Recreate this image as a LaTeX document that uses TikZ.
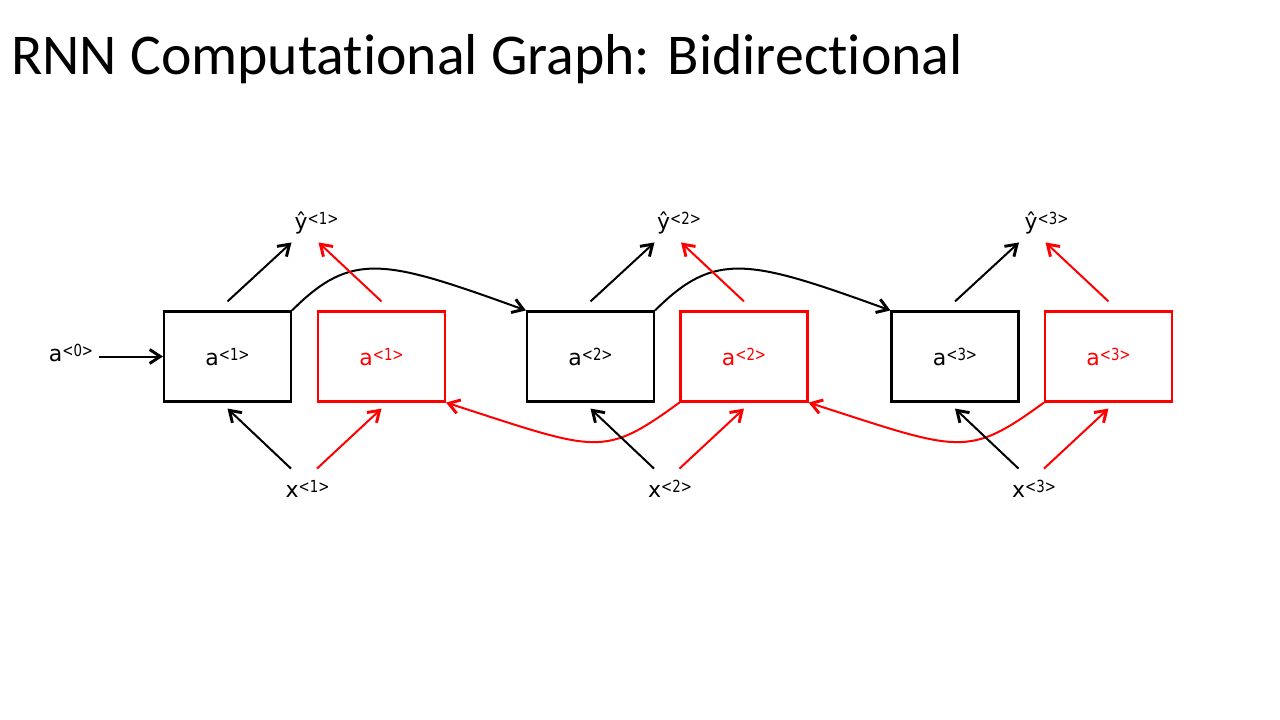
\documentclass[tikz,border=0pt]{standalone}
\usepackage{fontspec}
\setmainfont{DejaVu Sans}
\newfontfamily\titlefont{Carlito}[Ligatures={NoCommon}]
\usetikzlibrary{arrows.meta,calc}
\newcommand\sps[1]{\raisebox{3.5pt}{\scalebox{0.8}[1]{\fontsize{12.5}{13}\selectfont #1}}}
\begin{document}
\begin{tikzpicture}[x=0.75pt,y=-0.75pt,
  lbl/.style={font=\fontsize{16.5}{18}\selectfont, inner sep=0pt, anchor=base},
  bbox/.style={draw=black, line width=1.6pt, minimum width=95.25pt, minimum height=67.5pt,
    inner sep=0pt, font=\fontsize{16.5}{18}\selectfont, text height=13.5pt, text depth=0pt},
  rbox/.style={bbox, draw=red, text=red},
  arr/.style={line width=1.5pt, -{Straight Barb[length=8pt,width=10.5pt,line width=2.2pt]}},
  rarr/.style={arr, draw=red},
]
\useasboundingbox (0,0) rectangle (1280,720);

\node[anchor=base west, font=\titlefont\fontsize{43.3}{50}\selectfont, inner sep=0pt] (title) at (11,75) {RNN Computational Graph: Bidirectional};

% boxes
\node[bbox] (b1) at (227.5,356.5) {a\sps{<1>}};
\node[rbox] (r1) at (381.5,356.5) {a\sps{<1>}};
\node[bbox] (b2) at (590.5,356.5) {a\sps{<2>}};
\node[rbox] (r2) at (744,356.5) {a\sps{<2>}};
\node[bbox] (b3) at (955,356.5) {a\sps{<3>}};
\node[rbox] (r3) at (1108.5,356.5) {a\sps{<3>}};

% labels
\node[lbl] (a0) at (71,361) {a\sps{<0>}};
\node[lbl] (y1) at (316.5,229) {ŷ\sps{<1>}};
\node[lbl] (y2) at (679,229) {ŷ\sps{<2>}};
\node[lbl] (y3) at (1046.5,229) {ŷ\sps{<3>}};
\node[lbl] (x1) at (307.5,497) {x\sps{<1>}};
\node[lbl] (x2) at (670,497) {x\sps{<2>}};
\node[lbl] (x3) at (1034,497) {x\sps{<3>}};

% a0 input
\draw[arr] ($(b1.west)+(-64,0)$) -- (b1.west);

% forward recurrence
\draw[arr] (b1.north east) .. controls +(60,-60) and +(-141,-51) .. (b2.north west);
\draw[arr] (b2.north east) .. controls +(60,-60) and +(-141,-51) .. (b3.north west);

% backward recurrence
\draw[rarr] (r2.south west) .. controls +(-77,56) and +(152,49) .. (r1.south east);
\draw[rarr] (r3.south west) .. controls +(-77,56) and +(152,49) .. (r2.south east);

% outputs and inputs
\foreach \k in {1,2,3}{
  \draw[arr] ($(b\k.north)+(0,-9)$) -- ($(b\k.north)+(64,-68)$);
  \draw[rarr] ($(r\k.north)+(0,-9)$) -- ($(r\k.north)+(-63,-68)$);
  \draw[arr] ($(b\k.south)+(63.5,66)$) -- ($(b\k.south)+(0,6)$);
  \draw[rarr] ($(r\k.south)+(-64.5,66)$) -- ($(r\k.south)+(0,6)$);
}
\end{tikzpicture}
\end{document}
